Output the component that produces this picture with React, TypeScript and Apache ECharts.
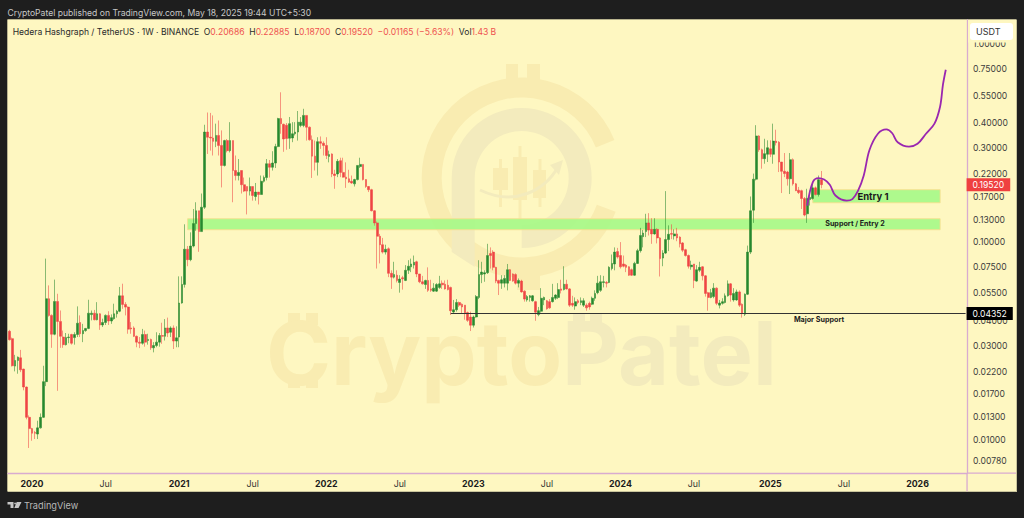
import React, { useEffect, useRef } from "react";
import * as echarts from "echarts";

// Weekly [open, high, low, close]
const candles2019to2020: number[][] = [
[.0354,.0360,.0318,.0321],[.0325,.0329,.0235,.0237],[.0236,.0269,.0222,.0252],[.0252,.0264,.0216,.0262],[.0260,.0285,.0220,.0226],[.0228,.0229,.0178,.0185],[.0185,.0186,.0127,.0130],[.0130,.0133,.0091,.0114],[.0114,.0115,.0099,.0108],[.0109,.0111,.0101,.0108],
[.0107,.0125,.0101,.0115],[.0115,.0136,.0114,.0130],[.0130,.0237,.0129,.0197],[.0197,.0825,.0187,.0517],[.0517,.0604,.0420,.0426],[.0426,.0431,.0292,.0342],[.0342,.0646,.0338,.0501],[.0501,.0548,.0177,.0397],[.0397,.0451,.0292,.0334],[.0331,.0357,.0292,.0303],
[.0303,.0347,.0300,.0329],[.0329,.0344,.0308,.0331],[.0341,.0344,.0303,.0308],[.0329,.0350,.0303,.0341],[.0341,.0473,.0331,.0389],[.0392,.0426,.0331,.0344],[.0344,.0386,.0312,.0357],[.0357,.0368,.0352,.0366],[.0366,.0511,.0363,.0437],[.0430,.0451,.0402,.0437],
[.0437,.0454,.0402,.0405],[.0405,.0497,.0402,.0434],[.0434,.0437,.0360,.0381],[.0381,.0410,.0372,.0392],[.0392,.0431,.0381,.0426],[.0426,.0447,.0381,.0399],[.0399,.0431,.0386,.0415],[.0410,.0488,.0405,.0434],[.0434,.0454,.0415,.0447],[.0447,.0593,.0442,.0535],
[.0535,.0616,.0460,.0484],[.0484,.0497,.0426,.0469],[.0469,.0473,.0344,.0363],[.0368,.0394,.0344,.0364],[.0368,.0375,.0331,.0334],[.0334,.0337,.0294,.0312],[.0312,.0331,.0291,.0308],[.0308,.0364,.0303,.0341],[.0341,.0357,.0296,.0312],[.0318,.0344,.0303,.0322],
[.0322,.0325,.0285,.0292],[.0292,.0312,.0277,.0300],[.0300,.0350,.0294,.0312],[.0312,.0347,.0296,.0337],[.0337,.0391,.0306,.0334],[.0334,.0408,.0318,.0368],[.0368,.0415,.0331,.0347],[.0350,.0375,.0331,.0368],[.0368,.0379,.0288,.0316],[.0316,.0375,.0294,.0328],
[.0331,.0671,.0294,.0492],[.0492,.0671,.0488,.0611],
];
const candles2021to2022: number[][] = [
[.0611,.123,.0589,.092],[.092,.0955,.0755,.0815],[.0815,.112,.0800,.0955],[.0955,.147,.094,.124],[.124,.159,.114,.144],[.144,.144,.0893,.113],[.113,.176,.113,.150],[.150,.392,.147,.360],[.360,.452,.279,.339],[.339,.450,.290,.336],
[.336,.437,.274,.323],[.323,.397,.302,.346],[.346,.412,.274,.308],[.308,.367,.189,.244],[.244,.329,.241,.326],[.326,.332,.284,.290],[.290,.404,.284,.326],[.326,.326,.159,.230],[.230,.274,.205,.217],[.217,.263,.205,.225],
[.230,.230,.176,.195],[.195,.212,.179,.181],[.191,.191,.138,.181],[.181,.212,.172,.191],[.191,.191,.162,.172],[.170,.199,.162,.179],[.179,.179,.155,.174],[.174,.217,.174,.203],[.203,.217,.200,.212],[.212,.263,.205,.249],
[.249,.260,.212,.239],[.239,.288,.230,.251],[.251,.314,.237,.304],[.304,.425,.302,.421],[.421,.572,.353,.397],[.394,.397,.286,.332],[.390,.400,.293,.334],[.335,.429,.296,.397],[.336,.404,.320,.353],[.353,.404,.346,.360],
[.360,.460,.326,.404],[.389,.429,.381,.404],[.389,.472,.381,.437],[.437,.437,.326,.381],[.381,.384,.326,.329],[.329,.346,.211,.272],[.272,.326,.230,.253],[.253,.339,.217,.322],[.322,.342,.296,.316],[.316,.323,.274,.308],
[.308,.339,.263,.274],[.271,.290,.253,.277],[.279,.281,.213,.221],[.221,.232,.186,.217],[.221,.263,.213,.256],[.258,.267,.213,.225],[.225,.267,.212,.213],[.213,.253,.188,.209],[.209,.232,.199,.201],[.203,.217,.197,.199],
[.197,.209,.191,.207],[.207,.244,.205,.244],[.241,.267,.237,.247],[.247,.247,.205,.207],[.207,.208,.188,.191],[.191,.192,.179,.184],[.184,.186,.143,.144],[.144,.145,.121,.125],[.125,.127,.0735,.107],[.107,.110,.0780,.097],
[.097,.105,.0875,.089],[.089,.097,.0865,.092],
];
const candles2022to2023: number[][] = [
[.0925,.094,.0665,.0695],[.0695,.072,.058,.0665],[.0665,.0795,.0655,.0685],[.068,.072,.0625,.064],[.0625,.068,.0555,.065],[.066,.0675,.0575,.0652],[.064,.0765,.0635,.072],[.072,.081,.069,.0755],[.075,.0825,.0705,.0775],[.0765,.0855,.0735,.079],
[.0795,.0805,.0665,.069],[.069,.069,.062,.063],[.063,.0675,.061,.0615],[.061,.0645,.058,.064],[.064,.0745,.056,.057],[.058,.0645,.056,.057],[.0565,.062,.056,.0585],[.0565,.062,.056,.061],[.059,.0675,.058,.0615],[.062,.064,.058,.0608],
[.0612,.064,.0575,.058],[.0605,.0645,.057,.0575],[.059,.0595,.0428,.045],[.0443,.051,.0435,.0455],[.0455,.0515,.0445,.0495],[.0495,.050,.047,.048],[.0485,.049,.0435,.047],[.048,.048,.0405,.0435],[.044,.0445,.0395,.0402],[.0418,.0445,.0355,.038],
[.038,.0425,.037,.0418],[.0418,.054,.0415,.053],[.0525,.081,.0515,.0685],[.0685,.0795,.062,.0705],[.069,.072,.063,.070],[.070,.098,.069,.0855],[.0875,.094,.0735,.0855],[.089,.091,.072,.0745],[.0745,.075,.062,.0635],[.064,.0645,.054,.062],
[.062,.068,.058,.0645],[.062,.068,.059,.0655],[.062,.0775,.057,.0725],[.0725,.073,.0635,.064],[.069,.0695,.063,.0635],[.0685,.0695,.061,.062],[.062,.0655,.059,.064],[.0635,.0645,.0555,.056],[.0565,.057,.050,.0515],[.051,.054,.050,.053],
[.0525,.054,.050,.0535],[.0505,.054,.050,.0535],[.050,.0505,.040,.0442],[.043,.047,.0422,.045],
];
const candles2023to2024: number[][] = [
[.0447,.0585,.044,.052],[.051,.053,.048,.0525],[.0505,.051,.0455,.046],[.050,.0515,.046,.0465],[.050,.0615,.0495,.0525],[.052,.0545,.051,.054],[.0525,.062,.0515,.0575],[.058,.0645,.055,.057],[.0575,.0755,.057,.0612],[.0612,.0645,.0575,.058],
[.058,.0585,.047,.048],[.049,.0535,.047,.048],[.0475,.0525,.0455,.050],[.0505,.0515,.0485,.0495],[.0495,.0525,.048,.0505],[.048,.052,.047,.0505],[.048,.049,.045,.0465],[.049,.050,.0455,.047],[.0485,.053,.048,.052],[.052,.057,.0505,.055],
[.0555,.0675,.0545,.062],[.057,.068,.056,.063],[.0625,.0675,.059,.063],[.0625,.0635,.059,.062],[.0625,.0755,.062,.0745],[.0735,.0865,.072,.078],[.0775,.094,.072,.089],[.0895,.0935,.0825,.084],[.0855,.10,.0735,.075],[.0775,.0855,.0745,.0755],
[.0765,.0775,.0705,.0745],[.075,.0755,.0675,.068],[.0725,.0735,.0675,.068],[.068,.0795,.0675,.078],[.078,.0925,.0775,.0905],[.0905,.118,.0885,.108],[.1065,.115,.094,.111],[.113,.139,.106,.125],[.125,.140,.108,.115],[.116,.132,.098,.110],
[.110,.132,.109,.116],[.116,.1175,.0985,.105],[.105,.106,.067,.0825],[.083,.091,.0755,.088],[.088,.181,.087,.103],[.103,.1215,.090,.1095],[.1105,.123,.1035,.1095],[.1075,.116,.103,.110],[.110,.118,.101,.105],[.106,.107,.094,.098],
[.099,.100,.089,.091],[.0915,.0925,.0845,.0855],[.0855,.0865,.0735,.0755],[.075,.0805,.0725,.0765],[.0775,.0775,.0585,.064],[.0635,.0765,.063,.0725],[.072,.0795,.0705,.0745],[.075,.0755,.064,.0675],[.0675,.068,.053,.055],[.0555,.056,.045,.0525],
[.0525,.058,.052,.0555],[.053,.062,.052,.0585],[.0585,.059,.048,.049],[.048,.051,.0462,.0492],[.049,.052,.0483,.050],[.0495,.055,.049,.0535],[.0535,.064,.053,.0615],[.0615,.062,.050,.054],[.051,.0585,.050,.055],[.051,.0575,.0505,.056],
[.056,.057,.047,.048],[.0485,.049,.0415,.0435],[.0432,.055,.0423,.0545],[.0545,.096,.054,.089],
];
const candles2024to2025: number[][] = [
[.089,.170,.087,.144],[.145,.222,.125,.208],[.208,.390,.205,.344],[.344,.347,.286,.293],[.293,.297,.235,.264],[.264,.333,.249,.280],[.278,.327,.254,.300],[.296,.327,.269,.278],[.278,.397,.249,.324],[.324,.370,.308,.318],
[.320,.324,.226,.254],[.254,.254,.177,.228],[.228,.282,.213,.222],[.226,.229,.193,.209],[.209,.282,.175,.261],[.261,.265,.193,.197],[.197,.199,.181,.182],[.183,.190,.175,.178],[.182,.184,.147,.166],[.166,.169,.135,.137],
[.139,.186,.125,.166],[.164,.182,.153,.168],[.166,.201,.164,.188],[.188,.191,.172,.174],[.174,.217,.170,.2069],[.20686,.22885,.187,.1952],
];
const ohlc = [...candles2019to2020, ...candles2021to2022, ...candles2022to2023, ...candles2023to2024, ...candles2024to2025];

// Projection curve drawn on the chart: week index and price
const projectionWeeks = [282,284,286,288,290,292,296,298,300,302,304,307,310,312,314,318,321,324,327,329,330,331];
const projectionPrices = [.153,.201,.2105,.207,.195,.172,.162,.165,.182,.217,.291,.353,.371,.356,.32,.304,.314,.353,.397,.485,.625,.744];

const priceTicks = [1,.75,.55,.4,.3,.22,.17,.13,.1,.075,.055,.04,.03,.022,.017,.013,.01,.0078];
const weekTickLabels: Record<number,string> = {8:"2020",34:"Jul",60:"2021",86:"Jul",112:"2022",138:"Jul",164:"2023",190:"Jul",216:"2024",242:"Jul",269:"2025",295:"Jul",321:"2026"};
const weekCount = 339;
const lastClose = 0.1952;
const majorSupport = 0.04352;
const entry1Zone = [0.184, 0.158];
const entry2Zone = [0.1312, 0.1155];

const BG = "#fef7c1";
const FRAME = "#1e1e1e";
const AXIS = "#d8abd0";
const GREEN = "#26882e";
const RED = "#ef4444";
const UI = "Inter, 'Noto Sans', sans-serif";
const WM1 = "#f9ecb1";
const WM2 = "#f3ebbd";

echarts.graphic.registerShape("tvLogo", echarts.graphic.extendPath(
  "M0 0H6V6H3V2.6H0Z M9.2 0H14L11 6H6.8Z M8.5 1.4A0.9 0.9 0 1 1 6.7 1.4A0.9 0.9 0 1 1 8.5 1.4Z", {}));

const deg = (d: number) => d * Math.PI / 180;

export default function App() {
  const ref = useRef<HTMLDivElement>(null);
  useEffect(() => {
    const chart = echarts.init(ref.current!, undefined, { renderer: "svg" });
    const weeks = Array.from({ length: weekCount }, (_, i) => String(i));
    const rect = (x: number, y: number, w: number, h: number, fill: string, z = -1) =>
      ({ type: "rect", z, silent: true, shape: { x, y, width: w, height: h }, style: { fill } });

    const legendRich: any = {
      k: { fill: "#2a2a2a", fontFamily: UI, fontSize: 8.55 },
      v: { fill: "#ef5350", fontFamily: UI, fontSize: 8.55 },
    };
    const graphic: any[] = [
      rect(7.5, 19.5, 1009.5, 472.5, "#c9c49c", -3),
      rect(7.5, 19.5, 1008.5, 471.5, BG, -2),
      // watermark
      { type: "sector", z: -1, silent: true, shape: { cx: 521.7, cy: 177.5, r: 100, r0: 80, startAngle: deg(20), endAngle: deg(338), clockwise: true }, style: { fill: WM1 } },
      rect(506, 64, 12, 17, WM1), rect(527, 64, 13, 17, WM1),
      rect(517, 272, 23, 18, WM1),
      { type: "sector", z: -1, silent: true, shape: { cx: 521.7, cy: 178, r: 70, r0: 47, startAngle: deg(180), endAngle: deg(450), clockwise: true }, style: { fill: WM2 } },
      { type: "polygon", z: -1, silent: true, shape: { points: [[451.7,178],[474.7,178],[474.7,267],[451.7,252]] }, style: { fill: WM2 } },
      rect(493, 168, 15, 22, WM1), rect(499, 159, 3, 48, WM1),
      rect(513, 157, 14, 43, WM1), rect(518.5, 146, 3, 74, WM1),
      rect(533, 170, 13, 28, WM1), rect(538.5, 159, 3, 48, WM1),
      { type: "bezierCurve", z: -1, silent: true, shape: { x1: 480, y1: 190, cpx1: 515, cpy1: 207, cpx2: 545, cpy2: 190, x2: 558, y2: 167 }, style: { stroke: WM2, lineWidth: 3, fill: "none" } },
      { type: "polygon", z: -1, silent: true, shape: { points: [[563,160],[550,165],[559,175]] }, style: { fill: WM2 } },
      rect(288, 313, 12, 12, WM1), rect(306, 313, 12, 12, WM1), rect(288, 379, 12, 9, WM1), rect(306, 379, 12, 9, WM1),
      rect(573, 313, 12, 12, WM2), rect(590, 313, 12, 12, WM2),
      { type: "text", z: -1, silent: true, x: 266, y: 397, style: {
          text: "{a|Crypto}{b|Patel}", align: "left", verticalAlign: "bottom",
          rich: { a: { fill: WM1, fontFamily: "Inter", fontWeight: 700, fontSize: 88 }, b: { fill: WM2, fontFamily: "Inter", fontWeight: 700, fontSize: 88 } },
      } },
      // frame texts
      { type: "text", z: 20, x: 7.5, y: 12.5, style: { text: "CryptoPatel published on TradingView.com, May 18, 2025 19:44 UTC+5:30", fill: "#c8c8c8", fontFamily: UI, fontSize: 8.6, verticalAlign: "middle" } },
      { type: "text", z: 20, x: 12.7, y: 32, style: {
          text: "{k|Hedera Hashgraph / TetherUS · 1W · BINANCE  O}{v|0.20686}{k|  H}{v|0.22885}{k|  L}{v|0.18700}{k|  C}{v|0.19520}{v|  −0.01165 (−5.63%)}{k|  Vol}{v|1.43 B}",
          verticalAlign: "middle", rich: legendRich } },
      rect(968, 20, 48, 22.5, BG, 19),
      { type: "rect", z: 20, shape: { x: 970, y: 23, width: 43, height: 17, r: 3 }, style: { fill: "#ffffff" } },
      { type: "text", z: 21, x: 976, y: 31.5, style: { text: "USDT", fill: "#333", fontFamily: UI, fontSize: 9, verticalAlign: "middle" } },
      // annotations
      { type: "text", z: 20, x: 873, y: 196.5, style: { text: "Entry 1", fill: "#1c1c1c", fontFamily: UI, fontWeight: 700, fontSize: 9.5, align: "center", verticalAlign: "middle" } },
      { type: "text", z: 20, x: 855, y: 223, style: { text: "Support / Entry 2", fill: "#1c1c1c", fontFamily: UI, fontWeight: 700, fontSize: 7.2, align: "center", verticalAlign: "middle" } },
      { type: "text", z: 20, x: 819, y: 319, style: { text: "Major Support", fill: "#1c1c1c", fontFamily: UI, fontWeight: 700, fontSize: 7.2, align: "center", verticalAlign: "middle" } },
      // axis extensions
      rect(966.4, 473, 1.3, 18.5, AXIS, 5),
      rect(967, 472.4, 49, 1.3, AXIS, 5),
      // footer
      { type: "tvLogo", z: 20, x: 7.5, y: 502, style: { fill: "#c6c6c6" } },
      { type: "text", z: 20, x: 24, y: 505.5, style: { text: "TradingView", fill: "#b8b8b8", fontFamily: UI, fontSize: 9.2, verticalAlign: "middle" } },
    ];

    chart.setOption({
      animation: false,
      backgroundColor: FRAME,
      graphic,
      grid: { left: 8, right: 57, top: 20, height: 453, containLabel: false },
      xAxis: {
        type: "category", data: weeks, z: 3,
        axisLine: { show: true, lineStyle: { color: AXIS, width: 1.3 } },
        axisTick: { show: false }, splitLine: { show: false },
        axisLabel: {
          interval: (i: number) => weekTickLabels[i] !== undefined,
          hideOverlap: false, margin: 6,
          formatter: (v: string) => { const t = weekTickLabels[Number(v)]; return t === "Jul" ? `{m|${t}}` : `{y|${t}}`; },
          rich: {
            y: { color: "#1c1c1c", fontFamily: UI, fontWeight: 700, fontSize: 8.8 },
            m: { color: "#333", fontFamily: UI, fontSize: 8.8 },
          },
        },
      },
      yAxis: {
        type: "log", logBase: 10, position: "right", min: 0.0068, max: 1.327, z: 3,
        axisLine: { show: true, onZero: false, lineStyle: { color: AXIS, width: 1.3 } },
        axisTick: { show: false }, splitLine: { show: false },
        axisLabel: { customValues: priceTicks, margin: 6, color: "#3c3c3c", fontFamily: UI, fontSize: 8.6, showMinLabel: true, showMaxLabel: true,
          formatter: (v: number) => v.toFixed(5) },
      },
      series: [
        {
          type: "candlestick", name: "HBARUSDT", barWidth: 2.2, clip: true,
          data: ohlc.map(([o, h, l, c]) => [o, c, l, h]),
          itemStyle: { color: GREEN, color0: RED, borderColor: GREEN, borderColor0: RED, borderWidth: 0.55 },
          markArea: {
            silent: true, z: 1,
            itemStyle: { color: "#a3f985", opacity: 0.88, borderColor: "#f6e08e", borderWidth: 1 },
            data: [
              [{ coord: [63, entry2Zone[0]] }, { coord: [329, entry2Zone[1]] }],
              [{ coord: [284, entry1Zone[0]] }, { coord: [329, entry1Zone[1]] }],
            ],
          },
          markLine: {
            silent: true, symbol: "none", animation: false,
            data: [
              [
                { coord: [156, majorSupport], lineStyle: { color: "#333", width: 1, type: "solid" },
                  label: { show: true, position: "end", distance: 1, formatter: "0.04352", color: "#fff", backgroundColor: "#000", fontFamily: UI, fontSize: 8.6, padding: [2, 6, 2, 6] } },
                { coord: [338, majorSupport] },
              ],
              [
                { coord: [337, lastClose], lineStyle: { color: "rgba(0,0,0,0)", width: 0.1, type: "solid" },
                  label: { show: true, position: "end", distance: 1, formatter: "0.19520", color: "#fff", backgroundColor: "#ef4040", fontFamily: UI, fontSize: 8.6, padding: [2, 6, 2, 6] } },
                { coord: [338, lastClose] },
              ],
            ],
          },
        },
        {
          type: "line", name: "Projection", smooth: 0.35, showSymbol: false, z: 4,
          data: projectionWeeks.map((w, i) => [w, projectionPrices[i]]),
          lineStyle: { color: "#9a27b0", width: 1.8 },
        },
      ],
    });
    return () => chart.dispose();
  }, []);
  return <div ref={ref} style={{ position: "fixed", left: 0, top: 0, width: 1024, height: 518 }} />;
}
